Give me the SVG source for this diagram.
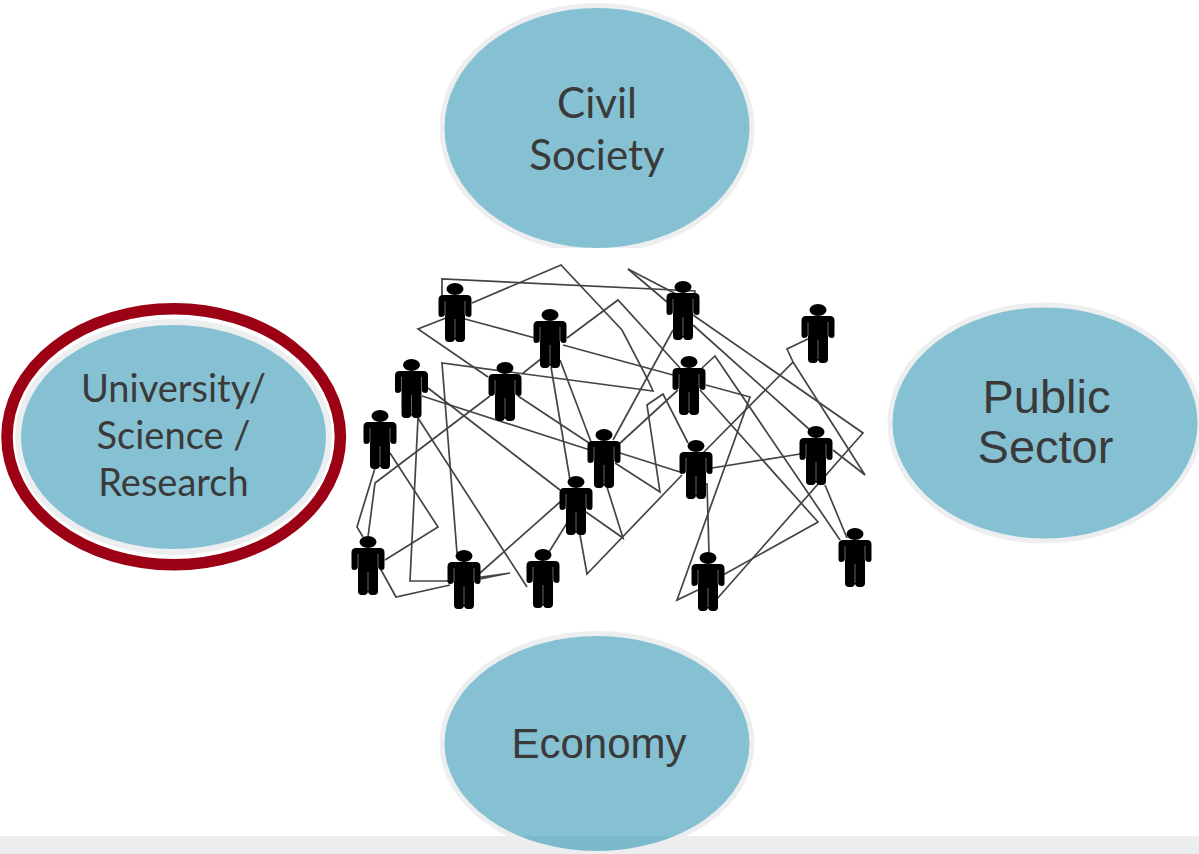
<svg xmlns="http://www.w3.org/2000/svg" xmlns:xlink="http://www.w3.org/1999/xlink" width="1199" height="854" viewBox="0 0 1199 854">
<style>
.b{fill:#85c1d2;stroke:#eceeef;stroke-width:5}
.t{font-family:"Lato","Open Sans",sans-serif;fill:#3a3a3a;text-anchor:middle}
.s{font-family:"Liberation Sans",Arial,sans-serif;fill:#3a3a3a;text-anchor:middle}
.l{fill:none;stroke:#444;stroke-width:1.7;stroke-linejoin:miter}
</style>
<defs>
<clipPath id="c"><rect x="0" y="0" width="1199" height="248"/></clipPath>
<clipPath id="up"><rect x="0" y="0" width="1199" height="836"/></clipPath>
<clipPath id="dn"><rect x="0" y="836" width="1199" height="18"/></clipPath>
<g id="person"><ellipse cx="0" cy="0" rx="8.5" ry="6" fill="#000"/><path d="M-12 6H12Q16.500 6 16.500 10.500V25Q16.500 28 14 28Q11 28 10 25.500V49Q10 53 6 53H3Q1 53 0 50Q-1 53-3 53H-6Q-10 53-10 49V25.500Q-11 28-14 28Q-16.500 28-16.500 25V10.500Q-16.500 6-12 6Z" fill="#000"/><path d="M-10 12V26M10 12V26M0 30V49" stroke="#666" stroke-width="1" fill="none"/></g>
</defs>
<rect width="1199" height="854" fill="#fff"/>
<rect y="836" width="1199" height="18" fill="#ecedef"/>
<g id="node-civil"><g clip-path="url(#c)"><ellipse class="b" cx="597" cy="128" rx="155" ry="122.500"/></g>
<text class="t" font-size="42" x="597" y="118">Civil</text>
<text class="t" font-size="42" x="597" y="170">Society</text></g>
<g id="node-university"><ellipse cx="173.700" cy="436.700" rx="166.700" ry="128" fill="none" stroke="#9b0014" stroke-width="11.500"/><ellipse class="b" style="stroke-width:6" cx="173.500" cy="437" rx="155.500" ry="115"/>
<text class="t" font-size="38" x="173.500" y="402">University/</text><text class="t" font-size="38" x="173.500" y="449">Science /</text><text class="t" font-size="38" x="173.500" y="496">Research</text></g>
<g id="node-public"><ellipse class="b" cx="1045" cy="423" rx="155" ry="118"/>
<text class="s" font-size="47" x="1046.500" y="413">Public</text><text class="s" font-size="47" x="1045.500" y="463">Sector</text></g>
<g id="node-economy"><ellipse class="b" clip-path="url(#up)" cx="597" cy="743.500" rx="155" ry="110"/><ellipse clip-path="url(#dn)" fill="#7bb9cb" cx="597" cy="743.500" rx="152.500" ry="107.500"/>
<text class="s" font-size="42" x="599" y="758">Economy</text></g>
<g id="connectors">
<polyline class="l" points="442,296 442,279 695,291 693,300"/>
<polyline class="l" points="472,303 561,265 622,330 647,378 653,391 442,363 457,553"/>
<polyline class="l" points="446,318 418,329 488,377"/>
<polyline class="l" points="465,319 535,338"/>
<polyline class="l" points="567,338 618,300 680,368"/>
<polyline class="l" points="563,345 673,375"/>
<polyline class="l" points="542,358 522,374"/>
<polyline class="l" points="551,367 570,480"/>
<polyline class="l" points="560,360 596,455"/>
<polyline class="l" points="428,388 560,490"/>
<polyline class="l" points="422,396 590,450"/>
<polyline class="l" points="418,418 410,581 453,581 510,573 480,579"/>
<polyline class="l" points="418,418 527,587"/>
<polyline class="l" points="490,396 375,483 368,537"/>
<polyline class="l" points="518,396 592,445"/>
<polyline class="l" points="375,468 357,527 363,537"/>
<polyline class="l" points="390,453 438,527 385,560"/>
<polyline class="l" points="380,568 396,597 450,585"/>
<polyline class="l" points="480,573 560,502"/>
<polyline class="l" points="549,552 567,523"/>
<polyline class="l" points="586,512 623,538 607,487"/>
<polyline class="l" points="580,535 587,574 682,475"/>
<polyline class="l" points="615,463 660,492 647,405 663,394 688,443"/>
<polyline class="l" points="618,445 678,390"/>
<polyline class="l" points="620,453 680,472"/>
<polyline class="l" points="673,330 613,440"/>
<polyline class="l" points="628,269 667,302"/>
<polyline class="l" points="628,269 680,296"/>
<polyline class="l" points="693,315 863,433 716,600"/>
<polyline class="l" points="693,325 810,430"/>
<polyline class="l" points="702,368 715,356 840,540"/>
<polyline class="l" points="706,385 750,397 677,600 698,590"/>
<polyline class="l" points="700,390 818,522 723,575"/>
<polyline class="l" points="703,453 793,362 787,349 810,338"/>
<polyline class="l" points="793,362 865,475 833,450"/>
<polyline class="l" points="712,468 800,454"/>
<polyline class="l" points="825,485 847,538"/>
<polyline class="l" points="707,483 709,553"/>
</g>
<use id="person-1" xlink:href="#person" x="455" y="289"/>
<use id="person-2" xlink:href="#person" x="550" y="315"/>
<use id="person-3" xlink:href="#person" x="683" y="287"/>
<use id="person-4" xlink:href="#person" x="818" y="310"/>
<use id="person-5" xlink:href="#person" x="411.500" y="365"/>
<use id="person-6" xlink:href="#person" x="505" y="368"/>
<use id="person-7" xlink:href="#person" x="689" y="362"/>
<use id="person-8" xlink:href="#person" x="380" y="416"/>
<use id="person-9" xlink:href="#person" x="604" y="435"/>
<use id="person-10" xlink:href="#person" x="696" y="446"/>
<use id="person-11" xlink:href="#person" x="816" y="432"/>
<use id="person-12" xlink:href="#person" x="576" y="482"/>
<use id="person-13" xlink:href="#person" x="368" y="542"/>
<use id="person-14" xlink:href="#person" x="464" y="556"/>
<use id="person-15" xlink:href="#person" x="543" y="555"/>
<use id="person-16" xlink:href="#person" x="708" y="558"/>
<use id="person-17" xlink:href="#person" x="855" y="534"/>
</svg>
